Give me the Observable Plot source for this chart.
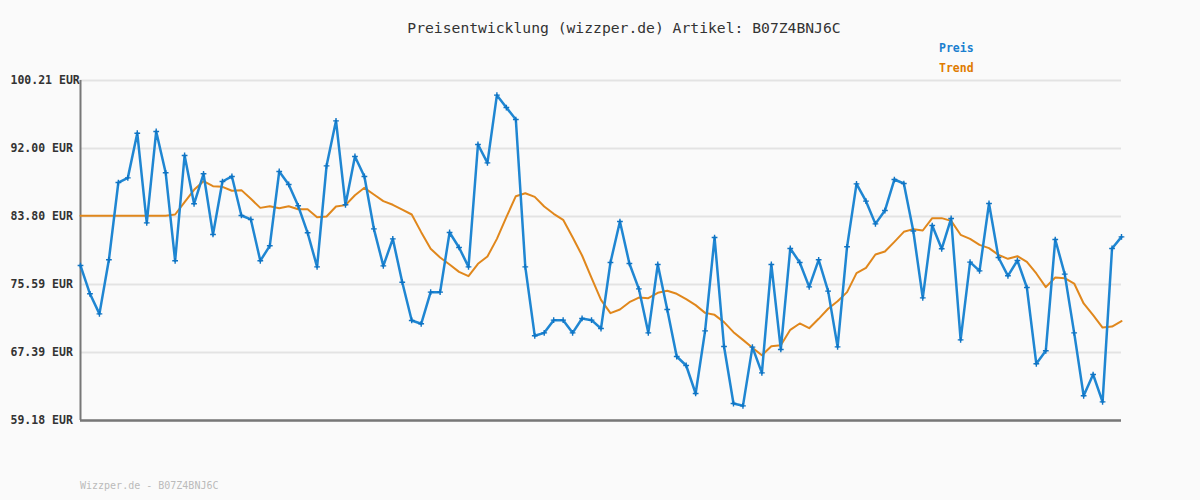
<!DOCTYPE html>
<html>
<head>
<meta charset="utf-8">
<script src="https://cdn.jsdelivr.net/npm/d3@7"></script>
<script src="https://cdn.jsdelivr.net/npm/@observablehq/plot@0.6"></script>
<style>
  body { margin: 0; background: #fafafa; }
  #wrap { position: relative; width: 1200px; height: 500px; background: #fafafa; font-family: "DejaVu Sans Mono", monospace; overflow: hidden; }
  #title { position: absolute; top: 19px; left: 0; width: 1248px; text-align: center; font-size: 14.7px; color: #333; white-space: nowrap; }
  .leg { position: absolute; left: 939px; font-size: 11.5px; font-weight: bold; white-space: nowrap; }
  #footer { position: absolute; left: 80px; top: 480px; font-size: 10px; color: #bbb; white-space: nowrap; }
  #chart { position: absolute; left: 0; top: 0; }
</style>
</head>
<body>
<div id="wrap">
  <div id="chart"></div>
  <div id="title">Preisentwicklung (wizzper.de) Artikel: B07Z4BNJ6C</div>
  <div class="leg" style="top:41px;color:#1a7fcf">Preis</div>
  <div class="leg" style="top:61px;color:#e07b00">Trend</div>
  <div id="footer">Wizzper.de - B07Z4BNJ6C</div>
</div>
<script>
const yTicks = [59.18, 67.39, 75.59, 83.80, 92.00, 100.21];
const yUnit = "EUR";

const price = [
  77.88, 74.47, 72.05, 78.57, 87.90, 88.46, 93.85, 83.03, 94.06, 89.07,
  78.45, 91.16, 85.33, 88.95, 81.63, 88.02, 88.63, 83.92, 83.44, 78.45,
  80.26, 89.23, 87.66, 85.09, 81.83, 77.72, 89.91, 95.34, 85.21, 91.04,
  88.63, 82.31, 77.84, 81.10, 75.87, 71.25, 70.85, 74.67, 74.67, 81.87,
  80.06, 77.72, 92.49, 90.27, 98.44, 96.95, 95.50, 77.72, 69.40, 69.76,
  71.29, 71.29, 69.76, 71.49, 71.29, 70.28, 78.25, 83.19, 78.13, 75.07,
  69.76, 78.01, 72.57, 66.90, 65.82, 62.44, 70.00, 81.26, 68.11, 61.23,
  60.95, 68.03, 64.93, 78.01, 67.75, 79.94, 78.25, 75.31, 78.57, 74.79,
  68.07, 80.14, 87.74, 85.65, 82.91, 84.52, 88.26, 87.78, 82.05, 73.98,
  82.71, 79.90, 83.56, 68.91, 78.29, 77.24, 85.37, 78.85, 76.64, 78.49,
  75.23, 66.02, 67.59, 81.02, 76.84, 69.76, 62.16, 64.73, 61.43, 79.94, 81.34
];

const trend = [
  83.90, 83.90, 83.90, 83.90, 83.90, 83.90, 83.90, 83.90, 83.90, 83.90,
  84.04, 85.53, 87.02, 88.06, 87.46, 87.38, 86.90, 86.98, 85.93, 84.84,
  85.04, 84.80, 85.04, 84.68, 84.68, 83.72, 83.80, 85.00, 85.17, 86.37,
  87.26, 86.45, 85.65, 85.21, 84.64, 84.04, 81.91, 79.90, 78.85, 78.01,
  77.12, 76.60, 78.09, 78.97, 81.10, 83.72, 86.25, 86.61, 86.17, 85.00,
  84.12, 83.40, 81.30, 79.09, 76.40, 73.74, 72.13, 72.57, 73.46, 74.02,
  73.94, 74.59, 74.83, 74.47, 73.82, 73.10, 72.17, 71.93, 71.05, 69.84,
  68.91, 67.95, 67.06, 68.15, 68.27, 70.12, 70.89, 70.32, 71.45, 72.66,
  73.58, 74.67, 76.96, 77.60, 79.21, 79.57, 80.74, 81.95, 82.27, 82.11,
  83.60, 83.60, 83.27, 81.59, 81.10, 80.38, 79.98, 79.17, 78.69, 79.01,
  78.33, 76.92, 75.27, 76.44, 76.36, 75.71, 73.30, 71.89, 70.40, 70.52, 71.17
];

const priceData = price.map((v, i) => ({i, v}));
const trendData = trend.map((v, i) => ({i, v}));

const chart = Plot.plot({
  width: 1200,
  height: 500,
  marginTop: 80,
  marginBottom: 80,
  marginLeft: 80,
  marginRight: 79,
  style: { background: "transparent", fontFamily: "DejaVu Sans Mono, monospace" },
  x: { domain: [0, price.length - 1], axis: null },
  y: { domain: [yTicks[0], yTicks[yTicks.length - 1]], axis: null },
  marks: [
    Plot.gridY(yTicks, { stroke: "#e3e3e3", strokeOpacity: 1, strokeWidth: 2 }),
    Plot.axisY(yTicks, {
      label: null,
      tickSize: 0, tickPadding: 0, textAnchor: "start", dx: -70,
      tickFormat: d => d.toFixed(2) + " " + yUnit,
      fontSize: 11.5, fontWeight: "bold", fill: "#333"
    }),
    Plot.ruleX([0], { stroke: "#777", strokeWidth: 2 }),
    Plot.ruleY([yTicks[0]], { stroke: "#777", strokeWidth: 2.5 }),
    Plot.line(trendData, { x: "i", y: "v", stroke: "#e0871c", strokeWidth: 2 }),
    Plot.line(priceData, { x: "i", y: "v", stroke: "#1f86d2", strokeWidth: 2.5 }),
    Plot.dot(priceData, { x: "i", y: "v", symbol: "plus", r: 2, stroke: "#0f74c4", strokeWidth: 1.4 })
  ]
});
document.getElementById("chart").appendChild(chart);
</script>
</body>
</html>
